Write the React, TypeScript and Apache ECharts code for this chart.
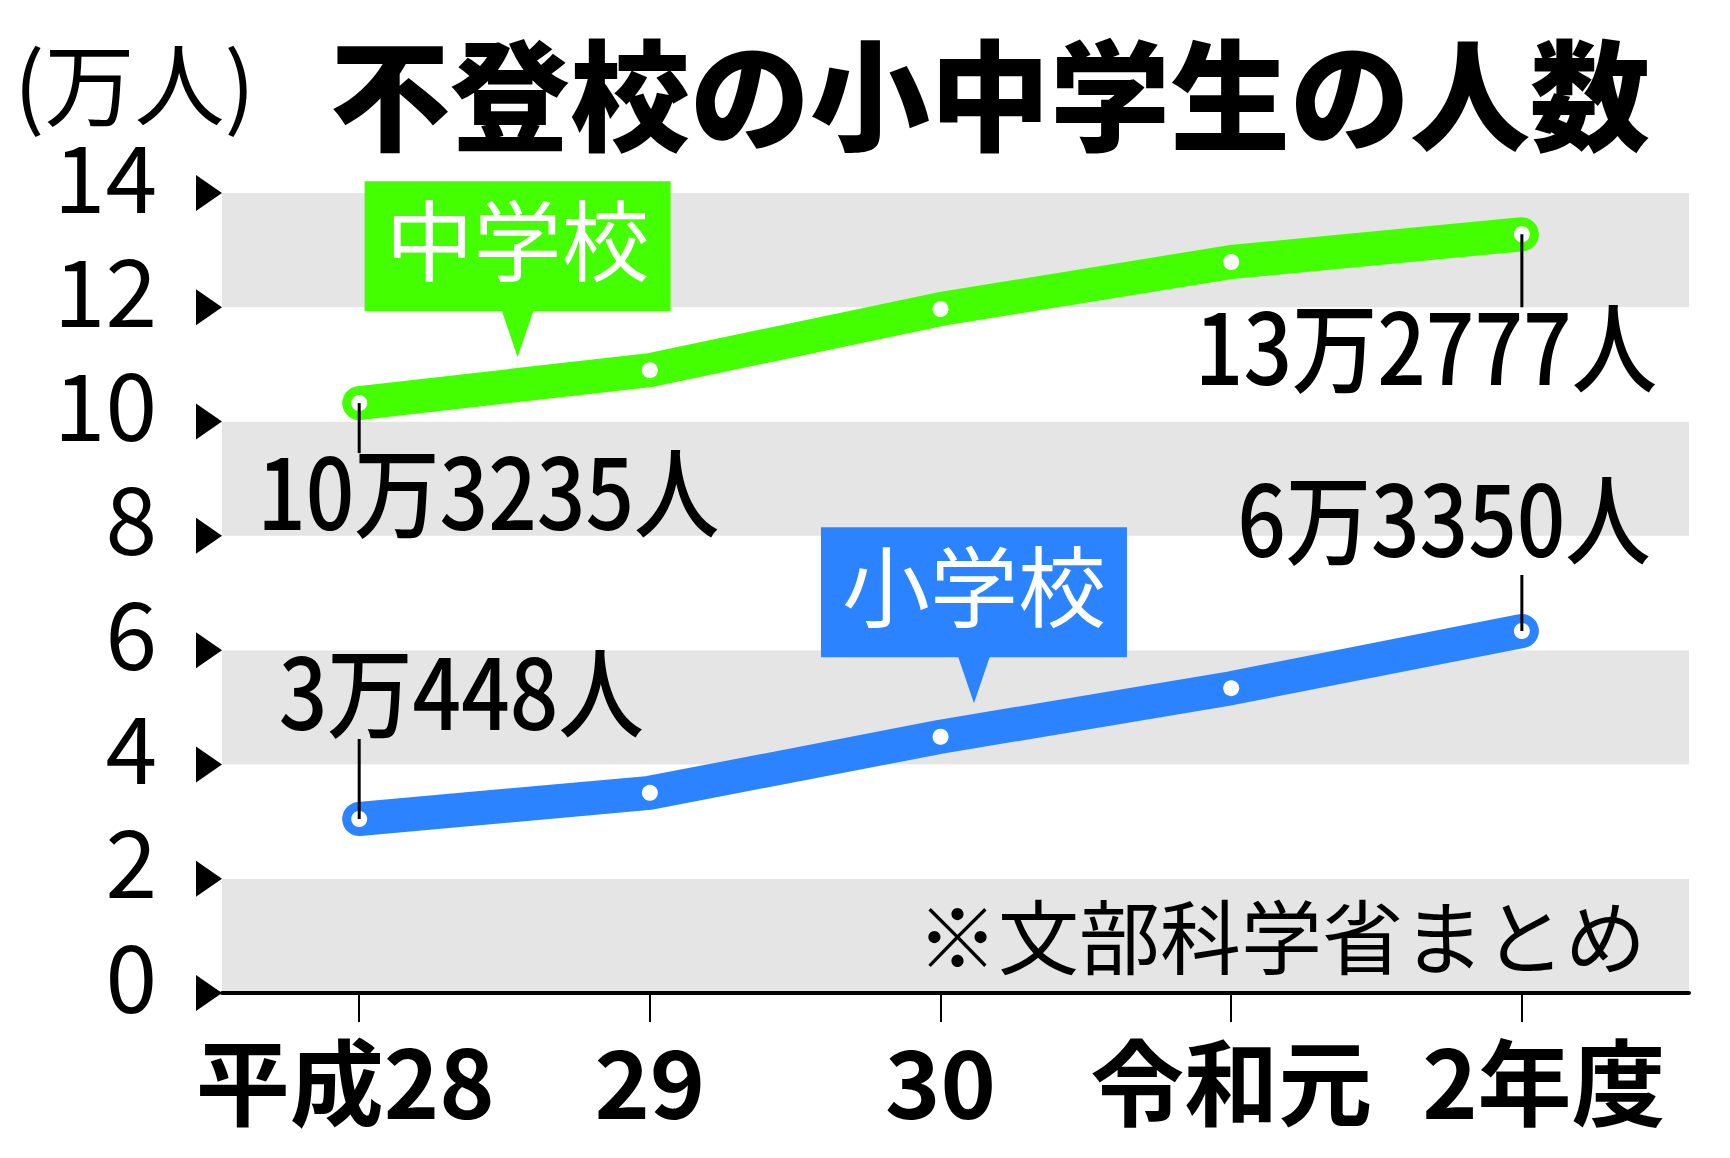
import React, { useEffect, useRef } from "react";
import * as echarts from "echarts";

// 不登校の小中学生の人数（万人）
const categories = ["平成28", "29", "30", "令和元", "2年度"];
const juniorHigh = [10.3235, 10.8999, 11.9687, 12.7922, 13.2777];
const elementary = [3.0448, 3.5032, 4.4841, 5.335, 6.335];
const yTicks = [0, 2, 4, 6, 8, 10, 12, 14];
const juniorNotes = ["10万3235人", "13万2777人"];
const elementaryNotes = ["3万448人", "6万3350人"];

const GREEN = "#44ff00";
const BLUE = "#2b83ff";
const GRAY = "#e5e5e5";
const CJK = "'Noto Sans CJK JP', sans-serif";
const CJK_MED = "'Noto Sans CJK JP Medium', 'Noto Sans CJK JP', sans-serif";

const App: React.FC = () => {
    const chartRef = useRef<HTMLDivElement>(null);

    useEffect(() => {
        document.body.style.margin = "0";
        if (!chartRef.current) return;
        const chart = echarts.init(chartRef.current, undefined, { renderer: "svg" });

        const xLabelRich = {
            first: { fontSize: 94, fontWeight: "bold", fontFamily: CJK, color: "#000", padding: [0, 28, 0, 0] },
            mid: { fontSize: 94, fontWeight: "bold", fontFamily: CJK, color: "#000" },
            last: { fontSize: 94, fontWeight: "bold", fontFamily: CJK, color: "#000", padding: [0, 0, 0, 44] },
        };

        chart.setOption({
            animation: false,
            backgroundColor: "#fff",
            grid: { left: 222, right: 41, top: 193, bottom: 165 },
            xAxis: {
                type: "value",
                min: -0.472,
                max: 4.575,
                splitLine: { show: false },
                axisLine: { lineStyle: { color: "#000", width: 4 } },
                axisTick: {
                    customValues: categories.map((_, i) => i),
                    length: 29,
                    lineStyle: { color: "#000", width: 2 },
                },
                axisLabel: {
                    customValues: categories.map((_, i) => i),
                    formatter: (v: number) => {
                        const i = Math.round(v);
                        const key = i === 0 ? "first" : i === categories.length - 1 ? "last" : "mid";
                        return `{${key}|${categories[i] ?? ""}}`;
                    },
                    rich: xLabelRich,
                    margin: 38,
                },
            },
            yAxis: {
                type: "value",
                min: 0,
                max: 14,
                interval: 2,
                axisLine: { show: false },
                axisTick: { show: false },
                splitLine: { show: false },
                splitArea: { show: true, areaStyle: { color: [GRAY, "#ffffff"] } },
                axisLabel: {
                    margin: 65,
                    color: "#000",
                    fontSize: 93,
                    fontFamily: CJK,
                    verticalAlign: "bottom",
                    lineHeight: 42,
                },
            },
            series: [
                {
                    name: "中学校",
                    type: "line",
                    data: juniorHigh.map((v, i) => [i, v]),
                    symbol: "circle",
                    symbolSize: 16,
                    itemStyle: { color: "#fff" },
                    lineStyle: { color: GREEN, width: 34, cap: "round", join: "round" },
                    emphasis: { disabled: true },
                    z: 3,
                },
                {
                    name: "小学校",
                    type: "line",
                    data: elementary.map((v, i) => [i, v]),
                    symbol: "circle",
                    symbolSize: 16,
                    itemStyle: { color: "#fff" },
                    lineStyle: { color: BLUE, width: 34, cap: "round", join: "round" },
                    emphasis: { disabled: true },
                    z: 3,
                },
            ],
        });

        const px = (x: number, y: number) =>
            chart.convertToPixel({ gridIndex: 0 }, [x, y]) as number[];

        const graphics: any[] = [];

        // title + unit
        graphics.push({
            type: "text",
            x: 990,
            y: 90,
            style: {
                text: "不登校の小中学生の人数",
                fontFamily: CJK,
                fontSize: 120,
                fontWeight: 900,
                fill: "#000",
                align: "center",
                verticalAlign: "middle",
            },
        });
        graphics.push({
            type: "text",
            x: 14,
            y: 80,
            style: {
                text: "(万人)",
                fontFamily: CJK,
                fontSize: 90,
                fill: "#000",
                align: "left",
                verticalAlign: "middle",
            },
        });

        // ▶ markers at y ticks
        yTicks.forEach((t) => {
            const [x0, y0] = px(-0.472, t);
            graphics.push({
                type: "polygon",
                shape: { points: [[x0 - 26, y0 - 18], [x0, y0], [x0 - 26, y0 + 18]] },
                style: { fill: "#000" },
                z: 10,
            });
        });

        // value notes with leader lines
        const note = (vals: number[], idx: number, text: string, dx: number, dy: number, lead: number) => {
            const [x0, y0] = px(idx, vals[idx]);
            graphics.push({
                type: "line",
                shape: { x1: x0, y1: y0, x2: x0, y2: y0 + lead },
                style: { stroke: "#000", lineWidth: 3 },
                z: 10,
            });
            graphics.push({
                type: "text",
                x: x0 + dx,
                y: y0 + dy,
                scaleX: 0.87,
                style: {
                    text,
                    fontFamily: CJK_MED,
                    fontSize: 98,
                    fontWeight: 500,
                    fill: "#000",
                    align: "center",
                    verticalAlign: "middle",
                },
                z: 10,
            });
        };
        const last = categories.length - 1;
        note(juniorHigh, 0, juniorNotes[0], 129, 84, 50);
        note(juniorHigh, last, juniorNotes[1], -96, 108, 73);
        note(elementary, 0, elementaryNotes[0], 102, -132, -80);
        note(elementary, last, elementaryNotes[1], -78, -117, -56);

        // series callouts
        const callout = (vals: number[], at: number, label: string, color: string) => {
            const i0 = Math.floor(at);
            const f = at - i0;
            const v = vals[i0] + (vals[i0 + 1] - vals[i0]) * f;
            const [tx, ly] = px(at, v);
            const tipY = ly - 28;
            const boxB = tipY - 46;
            const boxT = boxB - 130;
            graphics.push({
                type: "group",
                z: 10,
                children: [
                    {
                        type: "rect",
                        shape: { x: tx - 153, y: boxT, width: 306, height: 130 },
                        style: { fill: color },
                    },
                    {
                        type: "polygon",
                        shape: { points: [[tx - 16, boxB - 1], [tx + 16, boxB - 1], [tx, tipY]] },
                        style: { fill: color },
                    },
                    {
                        type: "text",
                        x: tx,
                        y: boxT + 54,
                        style: {
                            text: label,
                            fontFamily: CJK,
                            fontSize: 88,
                            fill: "#fff",
                            align: "center",
                            verticalAlign: "middle",
                        },
                    },
                ],
            });
        };
        callout(juniorHigh, 0.545, "中学校", GREEN);
        callout(elementary, 2.115, "小学校", BLUE);

        // source
        graphics.push({
            type: "text",
            x: 1646,
            y: 932,
            style: {
                text: "※文部科学省まとめ",
                fontFamily: CJK,
                fontSize: 81,
                fill: "#000",
                align: "right",
                verticalAlign: "middle",
            },
            z: 10,
        });

        chart.setOption({ graphic: graphics });

        return () => {
            chart.dispose();
        };
    }, []);

    return <div ref={chartRef} style={{ width: 1730, height: 1158 }} />;
};

export default App;
